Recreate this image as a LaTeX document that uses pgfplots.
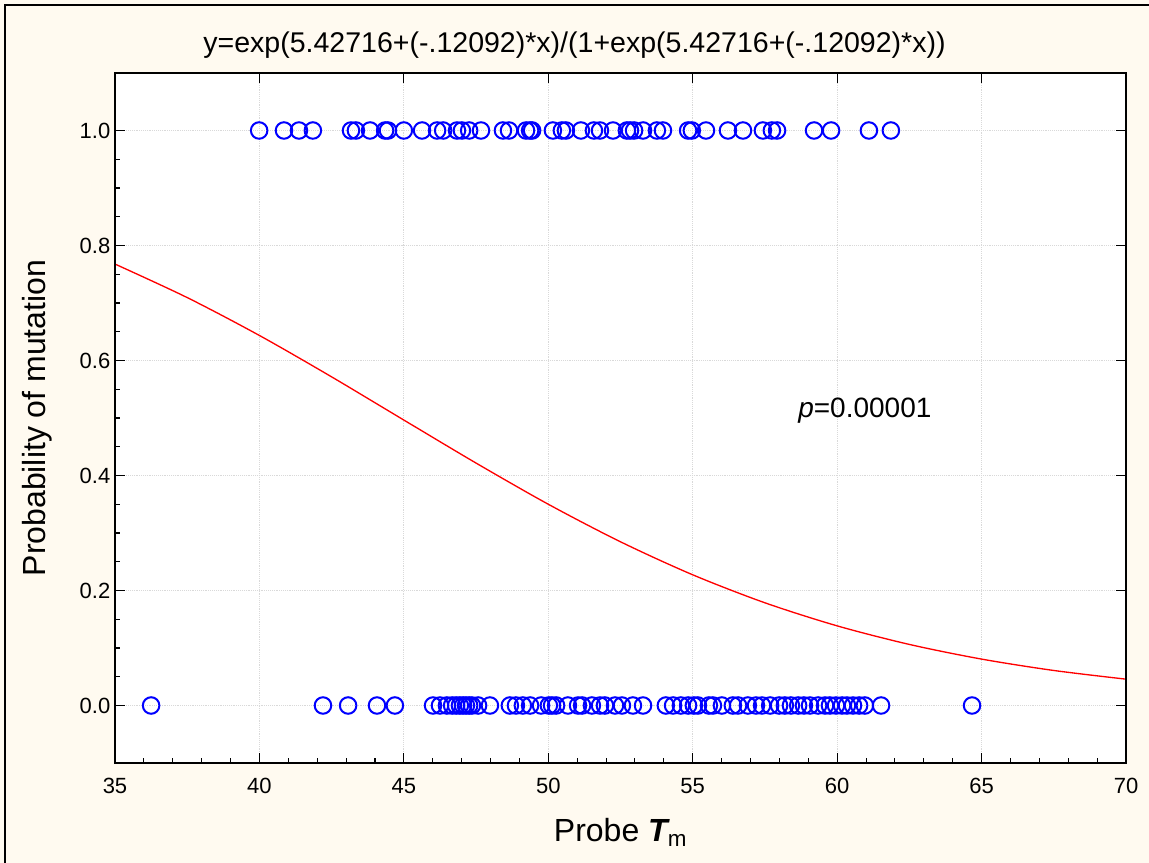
\documentclass[border=0pt]{standalone}
\usepackage{fontspec}
\setmainfont{Liberation Sans}
\usepackage{pgfplots}
\pgfplotsset{compat=1.18}
\definecolor{cream}{RGB}{255,250,240}
\definecolor{ptblue}{RGB}{0,0,255}
\definecolor{ptred}{RGB}{255,0,0}
\begin{document}
\begin{tikzpicture}
\fill[cream] (0,0) rectangle (861.75pt,647.25pt);
\draw[black, line width=1pt] (3.75pt,0) -- (3.75pt,643.5pt) -- (861.75pt,643.5pt);
\node[font=\fontsize{21.4}{25}\selectfont] at (430.9pt,613.5pt) {y=exp(5.42716+(-.12092)*x)/(1+exp(5.42716+(-.12092)*x))};
\begin{axis}[
  at={(86.25pt,75pt)}, anchor=south west,
  scale only axis, width=758.25pt, height=517.5pt,
  xmin=35, xmax=70, ymin=-0.1, ymax=1.1,
  xtick={35,40,45,50,55,60,65,70},
  ytick={0,0.2,0.4,0.6,0.8,1},
  minor x tick num=4, minor y tick num=3,
  tick align=inside, tick pos=left,
  major tick length=7.5pt, minor tick length=3.75pt,
  tick style={black, line width=0.8pt},
  grid=major,
  major grid style={densely dotted, black!15, line width=0.6pt},
  axis background/.style={fill=white},
  axis line style={line width=1pt},
  ticklabel style={font=\fontsize{16.5}{19}\selectfont},
  /pgf/number format/assume math mode=true,
  yticklabel style={/pgf/number format/.cd, fixed, fixed zerofill, precision=1},
  xticklabel style={yshift=-8pt, /pgf/number format/.cd, fixed, precision=0},
  clip=false,
]
\addplot[ptred, line width=1pt, smooth] coordinates {
(35,0.7677) (37.5,0.7094) (40,0.6435) (42.5,0.5715) (45,0.4964) (47.5,0.4216)
(50,0.3500) (52.5,0.2847) (55,0.2273) (57.5,0.1786) (60,0.1385) (62.5,0.1062)
(65,0.0807) (67.5,0.0609) (70,0.0458)};
\addplot[only marks, mark=o, mark size=6.2pt, ptblue, line width=1.5pt] coordinates {
(39.99,1) (40.85,1) (41.37,1) (41.85,1) (43.17,1) (43.34,1) (43.83,1) (44.35,1)
(44.45,1) (45.00,1) (45.63,1) (46.15,1) (46.36,1) (46.84,1) (47.01,1) (47.26,1)
(47.67,1) (48.43,1) (48.64,1) (49.23,1) (49.37,1) (49.44,1) (50.16,1) (50.47,1)
(50.61,1) (51.13,1) (51.58,1) (51.79,1) (52.24,1) (52.72,1) (52.83,1) (52.97,1)
(53.28,1) (53.76,1) (53.97,1) (54.84,1) (54.97,1) (55.46,1) (56.22,1) (56.74,1)
(57.43,1) (57.74,1) (57.92,1) (59.20,1) (59.79,1) (61.10,1) (61.86,1)
};
\addplot[only marks, mark=o, mark size=6.2pt, ptblue, line width=1.5pt] coordinates {
(36.25,0) (42.20,0) (43.07,0) (44.07,0) (44.69,0) (46.01,0) (46.25,0) (46.49,0)
(46.67,0) (46.81,0) (46.94,0) (47.05,0) (47.15,0) (47.26,0) (47.36,0) (47.57,0)
(47.98,0) (48.67,0) (48.88,0) (49.12,0) (49.37,0) (49.75,0) (50.02,0) (50.13,0)
(50.27,0) (50.68,0) (51.03,0) (51.17,0) (51.51,0) (51.79,0) (51.96,0) (52.31,0)
(52.55,0) (52.93,0) (53.28,0) (54.07,0) (54.32,0) (54.59,0) (54.84,0) (55.04,0)
(55.18,0) (55.56,0) (55.70,0) (56.01,0) (56.39,0) (56.57,0) (56.91,0) (57.19,0)
(57.40,0) (57.68,0) (57.99,0) (58.19,0) (58.40,0) (58.65,0) (58.85,0) (59.06,0)
(59.34,0) (59.58,0) (59.75,0) (59.96,0) (60.17,0) (60.34,0) (60.55,0) (60.76,0)
(60.96,0) (61.52,0) (64.67,0)
};
\node[font=\fontsize{21}{25}\selectfont] at (axis cs:60.96,0.512) {\textit{p}=0.00001};
\node[font=\fontsize{24}{28}\selectfont] at (axis description cs:0.5,-0.101) {Probe {\bfseries\itshape T}\textsubscript{m}};
\node[font=\fontsize{24}{28}\selectfont, rotate=90] at (axis description cs:-0.077,0.5) {Probability of mutation};
\end{axis}
\begin{axis}[
  at={(86.25pt,75pt)}, anchor=south west,
  scale only axis, width=758.25pt, height=517.5pt,
  xmin=35, xmax=70, ymin=-0.1, ymax=1.1,
  xtick={35,40,45,50,55,60,65,70},
  ytick={0,0.2,0.4,0.6,0.8,1},
  xticklabels={}, yticklabels={},
  tick align=inside, tick pos=right,
  major tick length=7.5pt,
  tick style={black, line width=0.8pt},
  axis line style={line width=1pt},
]
\end{axis}
\pgfresetboundingbox
\useasboundingbox (0,0) rectangle (861.75pt,647.25pt);
\end{tikzpicture}
\end{document}
